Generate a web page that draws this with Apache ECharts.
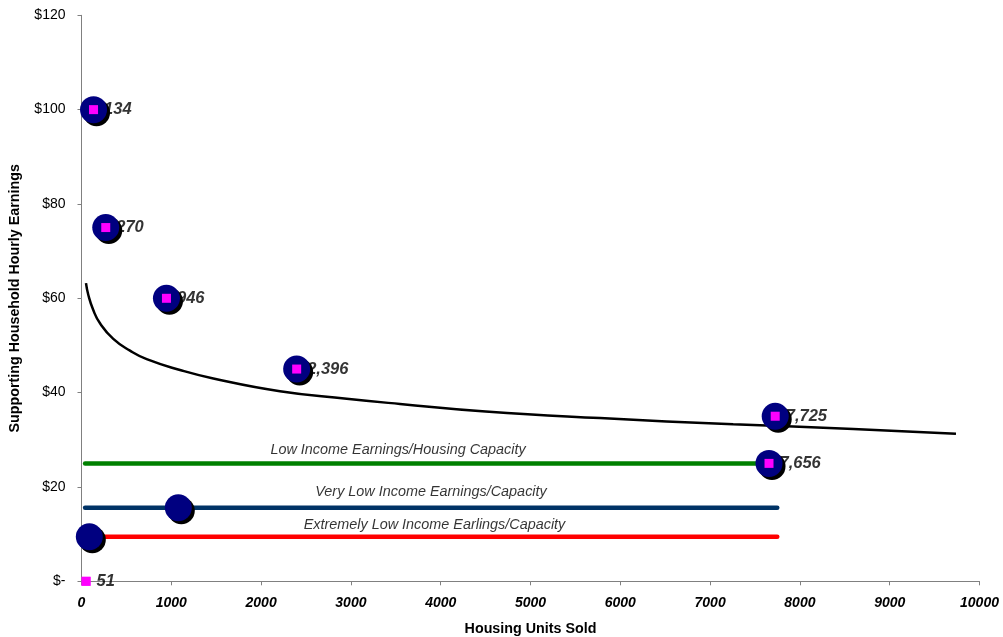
<!DOCTYPE html>
<html>
<head>
<meta charset="utf-8">
<script src="https://cdn.jsdelivr.net/npm/echarts@6/dist/echarts.min.js"></script>
<style>
html,body{margin:0;padding:0;background:#fff;}
#chart{width:1003px;height:637px;}
</style>
</head>
<body>
<div id="chart"></div>
<script>
// Pink squares: units sold vs supporting hourly earnings
const unitsSold = [134, 270, 946, 2396, 7725, 7656, 51];
const earnings = [100, 75, 60, 45, 35, 25, 0];
// Blue circles
const circleX = [134, 270, 946, 2396, 7725, 7656, 1078, 87];
const circleY = [100, 75, 60, 45, 35, 25, 15.6, 9.45];
// Trend curve
const trendX = [50, 76, 131, 206, 354, 540, 726, 1097, 1468, 2210, 2953, 3547, 4500, 5774, 7257, 8595, 9738];
const trendY = [63.2, 60.7, 57.5, 54.7, 51.4, 48.9, 47.1, 44.8, 43.0, 40.3, 38.7, 37.6, 36.0, 34.6, 33.3, 32.3, 31.3];
// Income capacity lines
const capStartX = 40;
const capEndX = 7748;
const lowIncome = 25;
const veryLowIncome = 15.6;
const extremelyLowIncome = 9.45;
// Line annotations
const annotText = ['Low Income Earnings/Housing Capacity', 'Very Low Income Earnings/Capacity', 'Extremely Low Income Earlings/Capacity'];
const annotX = [3525, 3892, 3931];
const annotY = [27.8, 19.0, 12.0];
// Axes
const xMin = 0, xMax = 10000, xStep = 1000;
const yMin = 0, yMax = 120, yStep = 20;

const FONT = 'Arial, "Liberation Sans", sans-serif';
const zip = (a, b) => a.map((v, i) => [v, b[i]]);
const hline = (y) => [[capStartX, y], [capEndX, y]];

const chart = echarts.init(document.getElementById('chart'), null, {renderer: 'canvas'});
chart.setOption({
  animation: false,
  backgroundColor: '#fff',
  grid: {left: 81.5, right: 23.5, top: 15.3, bottom: 55.7, containLabel: false, outerBoundsMode: 'none'},
  xAxis: {
    type: 'value', min: xMin, max: xMax, interval: xStep,
    name: 'Housing Units Sold', nameLocation: 'middle', nameGap: 41,
    nameTextStyle: {fontFamily: FONT, fontSize: 14.3, fontWeight: 'bold', color: '#000'},
    axisLine: {show: true, lineStyle: {color: '#808080', width: 1}},
    axisTick: {show: true, length: 4, inside: false, lineStyle: {color: '#808080'}},
    axisLabel: {margin: 15, fontFamily: FONT, fontSize: 14, fontWeight: 'bold', fontStyle: 'italic', color: '#000',
      formatter: v => String(v)},
    splitLine: {show: false}
  },
  yAxis: {
    type: 'value', min: yMin, max: yMax, interval: yStep,
    name: 'Supporting Household Hourly Earnings', nameLocation: 'middle', nameGap: 59.5, nameRotate: 90,
    nameTextStyle: {fontFamily: FONT, fontSize: 14.3, fontWeight: 'bold', color: '#000'},
    axisLine: {show: true, lineStyle: {color: '#808080', width: 1}},
    axisTick: {show: true, length: 4, inside: false, lineStyle: {color: '#808080'}},
    axisLabel: {margin: 16, fontFamily: FONT, fontSize: 14, color: '#000',
      formatter: v => v === 0 ? '$-' : '$' + v},
    splitLine: {show: false}
  },
  series: [
    {type: 'line', data: hline(lowIncome), showSymbol: false, z: 1,
      lineStyle: {color: '#008000', width: 4.5, cap: 'round'}},
    {type: 'line', data: hline(veryLowIncome), showSymbol: false, z: 1,
      lineStyle: {color: '#003366', width: 4.5, cap: 'round'}},
    {type: 'line', data: hline(extremelyLowIncome), showSymbol: false, z: 1,
      lineStyle: {color: '#ff0000', width: 4.5, cap: 'round'}},
    {type: 'line', data: zip(trendX, trendY), showSymbol: false, smooth: 0.5, z: 1,
      lineStyle: {color: '#000', width: 2.5}},
    {type: 'scatter', data: zip(annotX, annotY).map((p, i) => ({value: p, name: annotText[i]})),
      symbolSize: 0, z: 1, silent: true,
      label: {show: true, position: 'inside', formatter: p => p.name,
        fontFamily: FONT, fontSize: 14.4, fontStyle: 'italic', color: '#000'}},
    // square labels (drawn underneath circles)
    {type: 'scatter', data: zip(unitsSold, earnings), symbol: 'rect', symbolSize: 9, z: 2,
      itemStyle: {color: '#ff00ff'},
      label: {show: true, position: 'right', distance: 6,
        formatter: p => p.value[0].toLocaleString('en-US'),
        fontFamily: FONT, fontSize: 16.5, fontWeight: 'bold', fontStyle: 'italic', color: '#000'}},
    // circle shadows
    {type: 'scatter', data: zip(circleX, circleY), symbol: 'circle', symbolSize: 27, symbolOffset: [3, 3], z: 3,
      itemStyle: {color: '#000', opacity: 1}},
    // circles
    {type: 'scatter', data: zip(circleX, circleY), symbol: 'circle', symbolSize: 27, z: 4,
      itemStyle: {color: '#000080', opacity: 1}},
    // squares on top
    {type: 'scatter', data: zip(unitsSold, earnings), symbol: 'rect', symbolSize: 9, z: 5,
      itemStyle: {color: '#ff00ff', opacity: 1}}
  ]
});
</script>
</body>
</html>
